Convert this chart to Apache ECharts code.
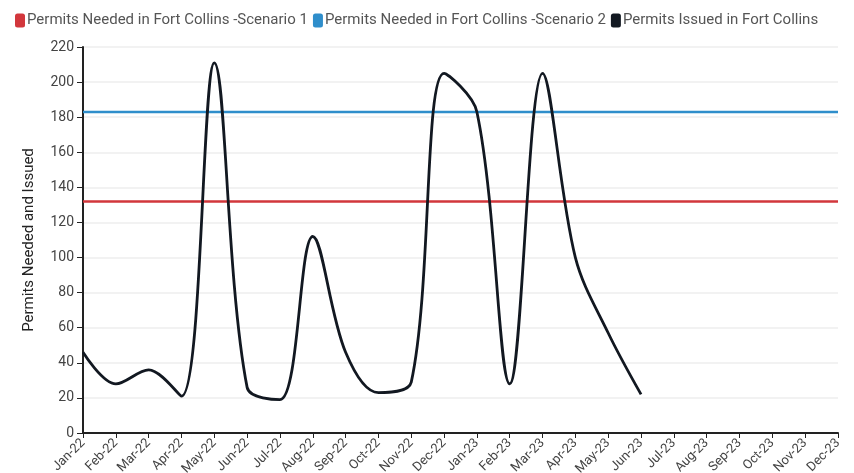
<!DOCTYPE html>
<html>
<head>
<meta charset="utf-8">
<script src="https://cdn.jsdelivr.net/npm/echarts@6/dist/echarts.min.js"></script>
<style>html,body{margin:0;padding:0;background:#fff;}#c{width:854px;height:473px;}</style>
</head>
<body>
<div id="c"></div>
<script>
const months = ['Jan-22','Feb-22','Mar-22','Apr-22','May-22','Jun-22','Jul-22','Aug-22','Sep-22','Oct-22','Nov-22','Dec-22','Jan-23','Feb-23','Mar-23','Apr-23','May-23','Jun-23','Jul-23','Aug-23','Sep-23','Oct-23','Nov-23','Dec-23'];
const scenario1 = [132,132,132,132,132,132,132,132,132,132,132,132,132,132,132,132,132,132,132,132,132,132,132,132];
const scenario2 = [183,183,183,183,183,183,183,183,183,183,183,183,183,183,183,183,183,183,183,183,183,183,183,183];
const issued = [46,28,36,21,211,26,19,112,46,23,29,205,183,28,205,100,57,22,null,null,null,null,null,null];
const yTicks = {min:0, max:220, interval:20};

const chart = echarts.init(document.getElementById('c'), null, {renderer:'canvas'});
chart.setOption({
  animation:false,
  textStyle:{fontFamily:'Roboto'},
  legend:{
    left:10, top:8, itemWidth:10, itemHeight:14, itemGap:5, icon:'roundRect',
    textStyle:{fontSize:15, color:'#555', fontFamily:'Roboto', padding:[0,0,0,-3]},
    data:['Permits Needed in Fort Collins -Scenario 1','Permits Needed in Fort Collins -Scenario 2','Permits Issued in Fort Collins']
  },
  grid:{left:83, right:16, top:47, bottom:40, containLabel:false, outerBoundsMode:'none'},
  xAxis:{
    type:'category', data:months, boundaryGap:false,
    axisLine:{lineStyle:{color:'#222', width:2}},
    axisTick:{show:true, length:5, lineStyle:{color:'#222'}},
    axisLabel:{rotate:45, fontSize:13, color:'#444', margin:8, interval:0}
  },
  yAxis:{
    type:'value', min:yTicks.min, max:yTicks.max, interval:yTicks.interval,
    name:'Permits Needed and Issued', nameLocation:'middle', nameGap:46,
    nameTextStyle:{fontSize:15, color:'#222'},
    axisLine:{show:true, lineStyle:{color:'#222', width:2}},
    axisTick:{show:true, length:6, lineStyle:{color:'#222'}},
    axisLabel:{fontSize:14, color:'#444', margin:9},
    splitLine:{lineStyle:{color:'#eeeeee', width:1.5}}
  },
  series:[
    {name:'Permits Needed in Fort Collins -Scenario 1', type:'line', data:scenario1, showSymbol:false, symbol:'none',
     color:'#d2373c', lineStyle:{width:2.5, color:'#d2373c'}},
    {name:'Permits Needed in Fort Collins -Scenario 2', type:'line', data:scenario2, showSymbol:false, symbol:'none',
     color:'#2f8ecb', lineStyle:{width:2.5, color:'#2f8ecb'}},
    {name:'Permits Issued in Fort Collins', type:'line', data:issued, showSymbol:false, symbol:'none', smooth:0.35,
     color:'#121821', lineStyle:{width:2.8, color:'#121821'}}
  ]
});
</script>
</body>
</html>
